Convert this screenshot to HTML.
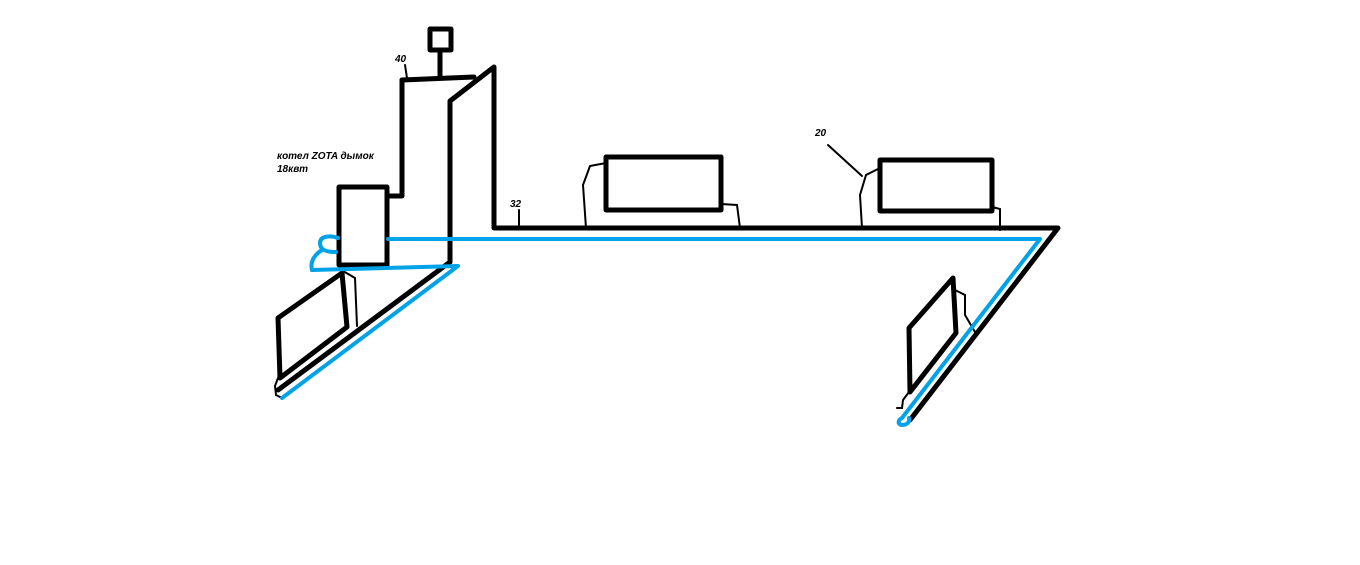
<!DOCTYPE html>
<html><head><meta charset="utf-8"><style>
html,body{margin:0;padding:0;background:#fff;}
svg{display:block;}
text{font-family:"Liberation Sans",sans-serif;font-style:italic;font-weight:bold;font-size:10px;fill:#000;}
</style></head><body>
<svg width="1360" height="565" viewBox="0 0 1360 565" xmlns="http://www.w3.org/2000/svg">
<g fill="none" stroke="#000" stroke-width="5" stroke-linejoin="round" stroke-linecap="round">
<rect x="430" y="29" width="21" height="21"/>
<line x1="440" y1="50" x2="440" y2="78"/>
<polyline points="402,80 474,77"/>
<polyline points="402,80 402,196 388,196"/>
<rect x="339" y="187" width="48" height="78"/>
<polyline points="450,262 450,101 494,67 494,228 1058,228 910,420"/>
<line x1="450" y1="262" x2="278" y2="390"/>
<polygon points="278,318 342,273 347,327 280,378"/>
<rect x="606" y="157" width="115" height="53"/>
<rect x="880" y="160" width="112" height="51"/>
<polygon points="909,328 953,278 956,333 910,392"/>
</g>
<g fill="none" stroke="#000" stroke-width="2" stroke-linecap="round">
<polyline points="606,163 590,166 583,185 586,228"/>
<polyline points="721,204 737,205 740,228"/>
<polyline points="880,168 866,175 860,195 862,228"/>
<polyline points="992,207 1000,209 1000,230"/>
<polyline points="343,271 355,278 357,326"/>
<polyline points="955,290 965,295 965,315 975,332"/>
<polyline points="278,378 275,386 276,395 282,398"/>
<polyline points="909,392 903,400 902,408 897,408"/>
<line x1="828" y1="145" x2="862" y2="176"/>
<line x1="519" y1="210" x2="519" y2="226"/>
<line x1="405" y1="65" x2="407" y2="78"/>
</g>
<g fill="none" stroke="#00a2e8" stroke-width="4" stroke-linejoin="round" stroke-linecap="round">
<polyline points="388,239 1040,239 902,418"/>
<polyline points="312,270 458,266 282,398"/>
<path d="M338,238 C330,235 320,236 320,243 C320,250 326,252 336,252 M322,250 C314,255 310,262 312,270"/>
<path d="M902,418 C898,420 897,424 902,425 C907,425 910,422 909,418"/>
</g>
<text x="395" y="62">40</text>
<text x="815" y="136">20</text>
<text x="510" y="207">32</text>
<text x="277" y="159">котел ZOTA дымок</text>
<text x="277" y="172">18квт</text>
</svg>
</body></html>
